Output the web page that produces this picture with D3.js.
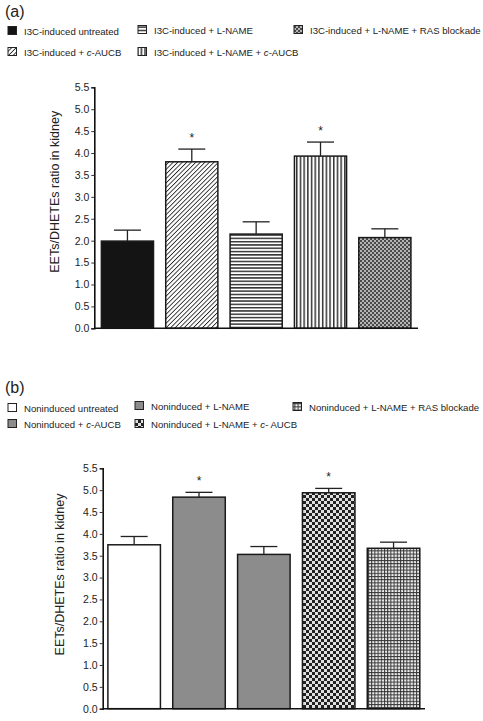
<!DOCTYPE html>
<html><head><meta charset="utf-8">
<script src="https://cdn.jsdelivr.net/npm/d3@7"></script>
<style>body{margin:0;background:#fff}svg{display:block}text{font-family:"Liberation Sans",Arial,sans-serif;fill:#222}</style>
</head><body><svg id="c" width="483" height="721"></svg>
<script>
// ---- data ----
const categoriesA = ["I3C-induced untreated","I3C-induced + c-AUCB","I3C-induced + L-NAME","I3C-induced + L-NAME + c-AUCB","I3C-induced + L-NAME + RAS blockade"];
const valuesA = [1.99, 3.80, 2.15, 3.93, 2.07];
const errorsA = [0.25, 0.29, 0.28, 0.32, 0.20];
const significantA = [false, true, false, true, false];

const categoriesB = ["Noninduced untreated","Noninduced + c-AUCB","Noninduced + L-NAME","Noninduced + L-NAME + c- AUCB","Noninduced + L-NAME + RAS blockade"];
const valuesB = [3.75, 4.84, 3.53, 4.94, 3.67];
const errorsB = [0.19, 0.11, 0.18, 0.10, 0.14];
const significantB = [false, true, false, true, false];

const yTicks = [0,0.5,1,1.5,2,2.5,3,3.5,4,4.5,5,5.5];
const yTickLabels = ["0.0","0.5","1.0","1.5","2.0","2.5","3.0","3.5","4.0","4.5","5.0","5.5"];
const yLabel = "EETs/DHETEs ratio in kidney";
// legend order (index into categories): row1 then row2
const legendOrder = [0, 2, 4, 1, 3];

const svg = d3.select("#c");
const defs = svg.append("defs");

function pat(id, w, h, bg, draw, transform) {
  const p = defs.append("pattern").attr("id", id).attr("patternUnits","userSpaceOnUse")
    .attr("width", w).attr("height", h);
  if (transform) p.attr("patternTransform", transform);
  p.append("rect").attr("width", w).attr("height", h).attr("fill", bg);
  draw(p);
}
pat("diag", 3.2, 3.2, "#fff", p => p.append("line").attr("x1",0).attr("y1",0).attr("x2",0).attr("y2",3.2).attr("stroke","#222").attr("stroke-width",1.7), "rotate(45)");
pat("horiz", 6, 3.3, "#fff", p => p.append("rect").attr("x",0).attr("y",0).attr("width",6).attr("height",1.5).attr("fill","#333"));
pat("vert", 3.7, 6, "#fff", p => p.append("rect").attr("x",0).attr("y",0).attr("width",1.5).attr("height",6).attr("fill","#333"));
pat("checkA", 4, 4, "#b5b5b5", p => { p.append("rect").attr("width",2).attr("height",2).attr("fill","#4a4a4a"); p.append("rect").attr("x",2).attr("y",2).attr("width",2).attr("height",2).attr("fill","#4a4a4a"); });
pat("checkB", 6, 6, "#e0e0e0", p => { p.append("rect").attr("width",3).attr("height",3).attr("fill","#222"); p.append("rect").attr("x",3).attr("y",3).attr("width",3).attr("height",3).attr("fill","#222"); });
pat("grid", 3.2, 3.2, "#eee", p => { p.append("rect").attr("width",3.2).attr("height",1).attr("fill","#333"); p.append("rect").attr("width",1).attr("height",3.2).attr("fill","#333"); });

const fillsA = ["#141414","url(#diag)","url(#horiz)","url(#vert)","url(#checkA)"];
const fillsB = ["#fff","#8c8c8c","#8c8c8c","url(#checkB)","url(#grid)"];

function legendText(sel, label) {
  const parts = label.split(/(?<=\+ )c(?=-)/);
  if (parts.length === 1) { sel.text(label); return; }
  sel.append("tspan").text(parts[0]);
  sel.append("tspan").attr("font-style","italic").text("c");
  sel.append("tspan").text(parts[1]);
}

function panel(cfg) {
  const g = svg.append("g");
  g.append("text").attr("x", 5).attr("y", cfg.titleY).attr("font-size", 16).text(cfg.title);
  // legend
  cfg.legendPos.forEach((pos, i) => {
    const k = legendOrder[i];
    g.append("rect").attr("x", pos[0]).attr("y", pos[1]-4.5).attr("width", 8.5).attr("height", 8)
      .attr("fill", cfg.fills[k]).attr("stroke", "#222").attr("stroke-width", 1);
    const t = g.append("text").attr("x", pos[0]+16).attr("y", pos[1]+3.5).attr("font-size", 9.6).attr("fill","#333");
    legendText(t, cfg.cats[k]);
    const maxW = 481 - (pos[0]+16);
    const w = t.node().getComputedTextLength();
    if (w > maxW) t.attr("textLength", maxW).attr("lengthAdjust", "spacingAndGlyphs");
  });
  const y = d3.scaleLinear().domain([0, 5.5]).range([cfg.y0, cfg.y1]);
  const x = d3.scaleBand().domain(cfg.cats).range([cfg.x0, cfg.x1]).paddingInner(0.19).paddingOuter(cfg.po);
  // bars
  g.selectAll(".bar").data(cfg.vals).join("rect")
    .attr("x", (d,i) => x(cfg.cats[i])).attr("width", x.bandwidth())
    .attr("y", d => y(d)).attr("height", d => y(0) - y(d))
    .attr("fill", (d,i) => cfg.fills[i]).attr("stroke", "#1a1a1a").attr("stroke-width", 1.5);
  // error bars
  cfg.vals.forEach((v, i) => {
    const cx = x(cfg.cats[i]) + x.bandwidth()/2;
    const top = y(v + cfg.errs[i]);
    g.append("line").attr("x1", cx).attr("x2", cx).attr("y1", y(v)).attr("y2", top).attr("stroke","#222").attr("stroke-width",1.3);
    g.append("line").attr("x1", cx-13.5).attr("x2", cx+13.5).attr("y1", top).attr("y2", top).attr("stroke","#222").attr("stroke-width",1.3);
    if (cfg.sig[i]) g.append("text").attr("x", cx).attr("y", top - 7).attr("text-anchor","middle").attr("font-size", 12).text("*");
  });
  // axes
  const ax = d3.axisLeft(y).tickValues(yTicks).tickFormat((d,i) => yTickLabels[i]).tickSize(3).tickPadding(2);
  const ag = g.append("g").attr("transform", `translate(${cfg.x0},0)`).call(ax);
  ag.select(".domain").attr("stroke","#111").attr("stroke-width",1.6);
  ag.selectAll(".tick line").attr("stroke","#333");
  ag.selectAll(".tick text").attr("font-size", 10.5).attr("font-family", '"Liberation Sans",Arial,sans-serif').attr("fill","#333");
  g.append("line").attr("x1", cfg.x0).attr("x2", cfg.x1).attr("y1", y(0)).attr("y2", y(0)).attr("stroke","#111").attr("stroke-width",1.6);
  g.append("text").attr("transform", `translate(${cfg.labelX},${(cfg.y0+cfg.y1)/2 + cfg.labelDy}) rotate(-90)`)
    .attr("text-anchor","middle").attr("font-size", 12.5).attr("fill","#333").text(yLabel);
}

panel({title:"(a)", titleY:17, cats:categoriesA, vals:valuesA, errs:errorsA, sig:significantA, fills:fillsA,
  legendPos:[[8,31],[138,30],[294,30],[8,52],[138,52]],
  x0:94.3, x1:418, po:0.11, y0:328.3, y1:87.3, labelX:59, labelDy:-16});
panel({title:"(b)", titleY:393, cats:categoriesB, vals:valuesB, errs:errorsB, sig:significantB, fills:fillsB,
  legendPos:[[8,408],[135,406],[293,407],[8,424],[135,424]],
  x0:102.7, x1:425, po:0.08, y0:708.7, y1:468.3, labelX:64, labelDy:-14});
</script></body></html>
